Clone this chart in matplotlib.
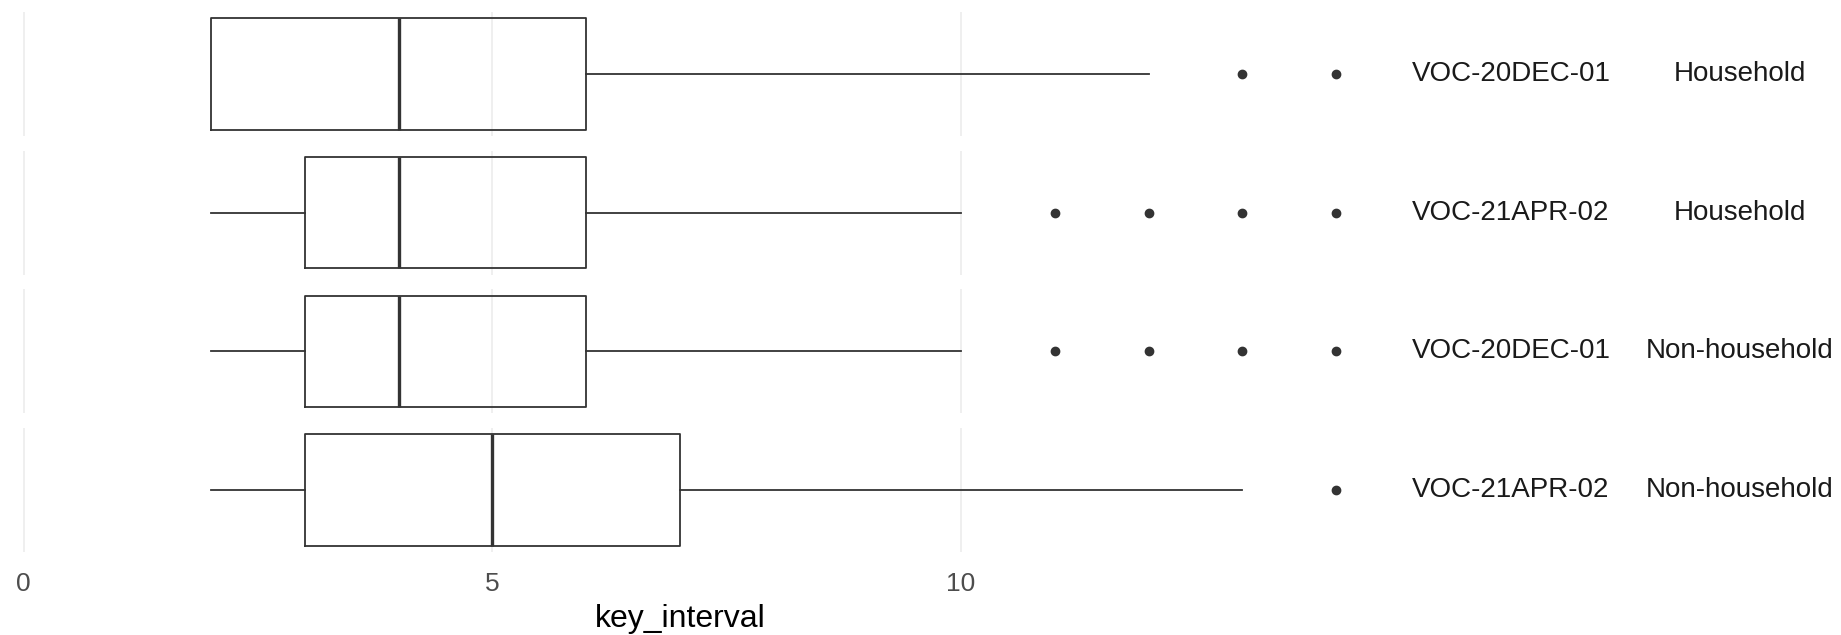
import matplotlib
matplotlib.use("Agg")
import matplotlib.pyplot as plt
from matplotlib.transforms import blended_transform_factory

plt.rcParams['font.family'] = ['Liberation Sans', 'DejaVu Sans']

# facet labels (variant, setting), top to bottom
variants = ["VOC-20DEC-01", "VOC-21APR-02", "VOC-20DEC-01", "VOC-21APR-02"]
settings = ["Household", "Household", "Non-household", "Non-household"]

# box statistics of key_interval (days)
whislo = [2, 2, 2, 2]
q1 = [2, 3, 3, 3]
med = [4, 4, 4, 5]
q3 = [6, 6, 6, 7]
whishi = [12, 10, 10, 13]
fliers = [[13, 14], [11, 12, 13, 14], [11, 12, 13, 14], [14]]

xticks = [0, 5, 10]

W, H = 1841, 635
fig = plt.figure(figsize=(W / 100, H / 100), dpi=100)

# x scale: 0 sits at ~23.5 px, 93.75 px per unit, limits -0.7..14.7
unit = 93.75
x_left = 23.5 - 0.7 * unit
x_width = 15.4 * unit
panel_h = 124
step = 138.7
top0 = 12

line_col = "#333333"
for i in range(len(variants)):
    top = top0 + i * step
    ax = fig.add_axes([x_left / W, (H - top - panel_h) / H, x_width / W, panel_h / H])
    stats = [dict(med=med[i], q1=q1[i], q3=q3[i], whislo=whislo[i],
                  whishi=whishi[i], fliers=fliers[i])]
    ax.bxp(stats, positions=[0], widths=0.9, vert=False, showcaps=False,
           boxprops=dict(color=line_col, linewidth=1.3),
           whiskerprops=dict(color=line_col, linewidth=1.3),
           medianprops=dict(color=line_col, linewidth=2.4, solid_capstyle="butt"),
           flierprops=dict(marker="o", markersize=6, markerfacecolor=line_col,
                           markeredgecolor=line_col, linestyle="none"))
    ax.set_xlim(-0.7, 14.7)
    ax.set_ylim(-0.5, 0.5)
    ax.set_xticks(xticks)
    ax.set_yticks([])
    ax.grid(axis="x", color="#ebebeb", linewidth=1.1)
    ax.set_axisbelow(True)
    for s in ax.spines.values():
        s.set_visible(False)
    ax.tick_params(axis="x", length=0, pad=14, labelsize=19, labelcolor="#4d4d4d")
    if i < len(variants) - 1:
        ax.tick_params(axis="x", labelbottom=False)

    tr = blended_transform_factory(fig.transFigure, ax.transAxes)
    ax.text(1511 / W, 0.5, variants[i], transform=tr, ha="center", va="center",
            fontsize=20, color="#1a1a1a")
    ax.text(1740 / W, 0.5, settings[i], transform=tr, ha="center", va="center",
            fontsize=20, color="#1a1a1a")

fig.text(680 / W, 1 - 619 / H, "key_interval", ha="center", va="center",
         fontsize=23, color="black")

fig.savefig("out.png", dpi=100, facecolor="white")
